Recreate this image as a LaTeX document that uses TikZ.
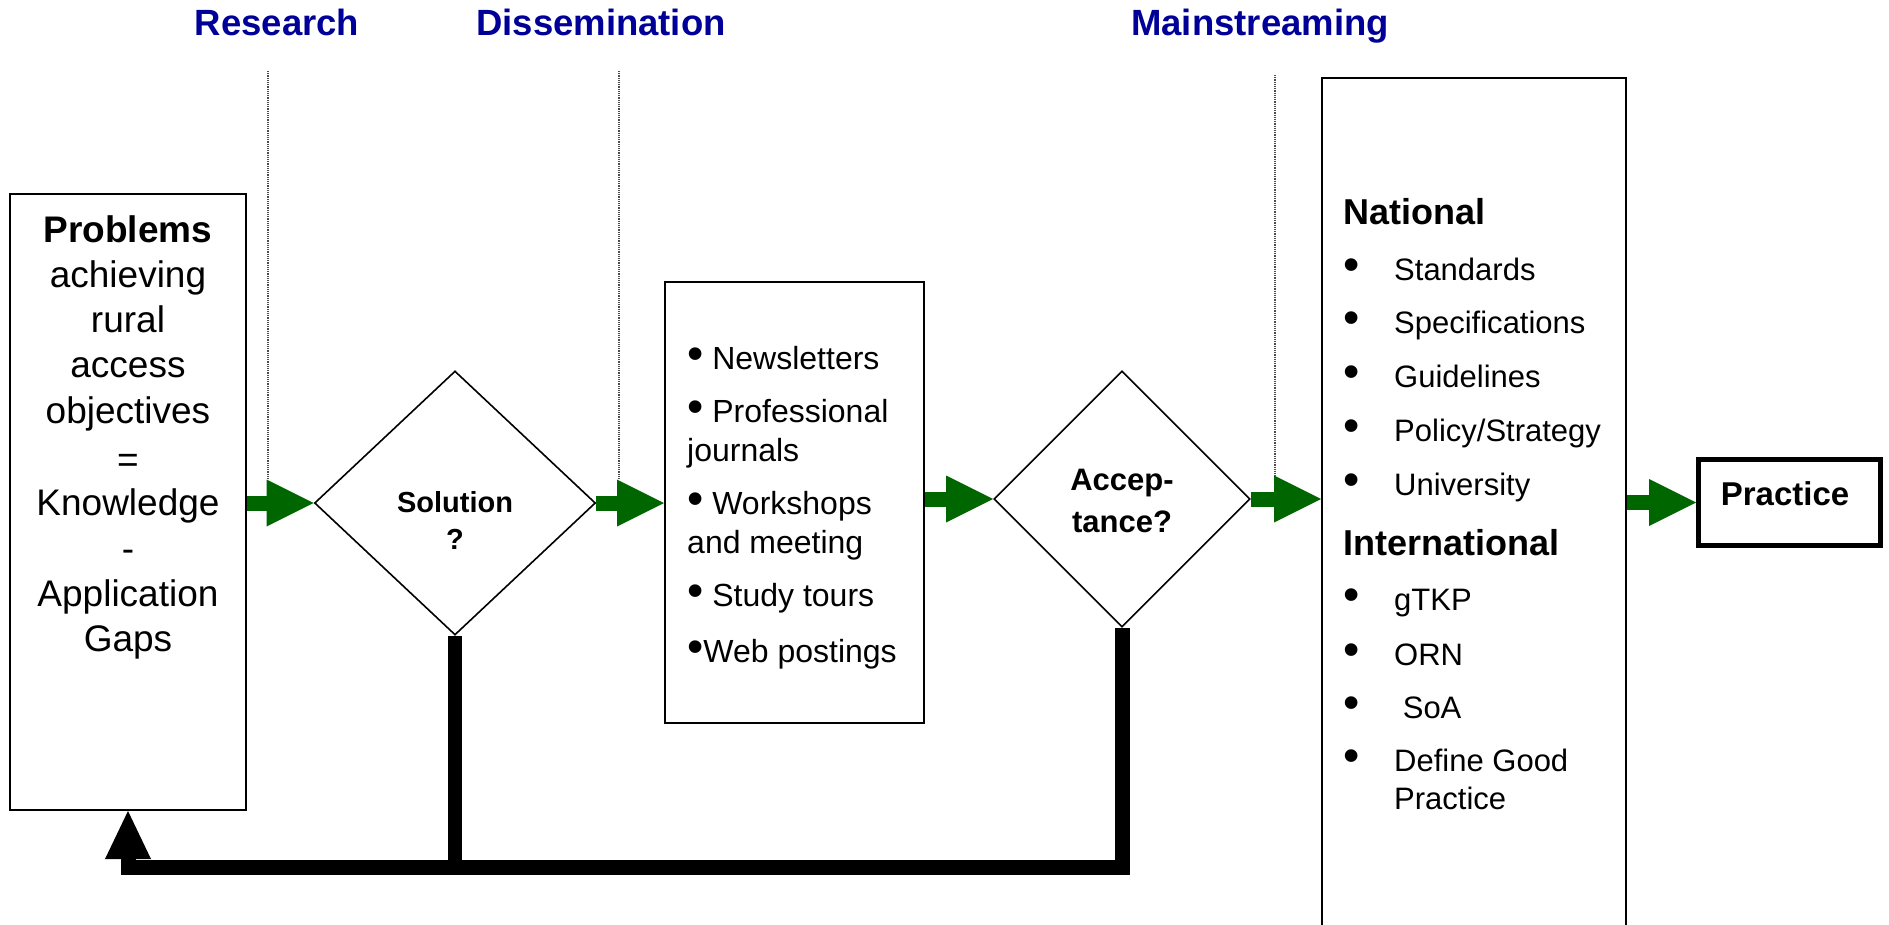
\documentclass[tikz,border=0pt]{standalone}
\usepackage{graphicx}
\usepackage{fontspec}
\setmainfont{Liberation Sans}
\usetikzlibrary{shapes.geometric,arrows.meta,calc}
\definecolor{ttl}{RGB}{0,0,153}
\definecolor{grn}{RGB}{0,102,0}
\newcommand\dbul{\scalebox{1.45}{\textbullet}}
\newcommand\nbul{\makebox[51pt][l]{\scalebox{1.5}{\textbullet}}}
\begin{document}
\begin{tikzpicture}[x=1pt,y=-1pt,
  box/.style={draw, line width=2pt, inner sep=0pt},
  dia/.style={draw, diamond, line width=1.6pt, inner sep=0pt},
  ttlnode/.style={text=ttl, font=\bfseries\fontsize{36.5}{40}\selectfont, inner sep=0pt, anchor=base},
  txt/.style={inner sep=0pt},
  garrow/.style={grn, line width=15pt, -{Triangle[length=47pt,width=47pt,line width=0pt]}},
  fback/.style={line width=15pt, line join=miter},
  dotline/.style={densely dotted, line width=1.2pt, black!70},
]
\useasboundingbox (0,0) rectangle (1889,924);
\clip (0,0) rectangle (1889,924);

% titles
\node[ttlnode] (res) at (277,35) {Research};
\node[ttlnode] (dsm) at (601,35) {Dissemination};
\node[ttlnode] (mst) at (1260,35) {Mainstreaming};

% dotted guide lines
\coordinate (r1) at (268,71);   \coordinate (r2) at (268,480);
\coordinate (d1) at (619,71);   \coordinate (d2) at (619,480);
\coordinate (m1) at (1275,75);  \coordinate (m2) at (1275,476);
\draw[dotline] (r1) -- (r2);
\draw[dotline] (d1) -- (d2);
\draw[dotline] (m1) -- (m2);

% problems box
\node[box, minimum width=236pt, minimum height=616pt] (prob) at (128,502) {};
\node[txt, anchor=north, align=center, font=\fontsize{37}{45.3}\selectfont] (probt) at (128,215)
  {\textbf{Problems}\\achieving\\rural\\access\\objectives\\[4pt]=\\[-2pt]Knowledge\\-\\Application\\Gaps};

% solution diamond
\node[dia, minimum width=281pt, minimum height=264pt] (sol) at (455,503) {};
\node[txt, align=center, font=\bfseries\fontsize{29}{37}\selectfont] (solt) at (455,520) {Solution\\?};

% dissemination box
\node[box, minimum width=259pt, minimum height=441pt] (dis) at (794.5,502.5) {};
\node[txt, anchor=north west, align=left, font=\fontsize{32}{38.5}\selectfont] (dist) at (687,346)
  {\dbul\ Newsletters\\[15pt]
   \dbul\ Professional\\journals\\[15pt]
   \dbul\ Workshops\\and meeting\\[15pt]
   \dbul\ Study tours\\[17pt]
   \dbul Web postings};

% acceptance diamond
\node[dia, minimum width=256pt, minimum height=256pt] (acc) at (1122,499) {};
\node[txt, align=center, font=\bfseries\fontsize{31}{42}\selectfont] (acct) at (1122,501) {Accep-\\tance?};

% national / international box
\node[box, anchor=north, minimum width=304pt, minimum height=870pt] (nat) at (1474,77) {};
\node[txt, anchor=north west, align=left, font=\fontsize{31}{38}\selectfont] (natt) at (1343,198)
  {{\bfseries\fontsize{36}{38}\selectfont National}\\[18pt]
   \nbul Standards\\[15.7pt]
   \nbul Specifications\\[15.7pt]
   \nbul Guidelines\\[15.7pt]
   \nbul Policy/Strategy\\[15.7pt]
   \nbul University\\[22pt]
   {\bfseries\fontsize{36}{38}\selectfont International}\\[17pt]
   \nbul gTKP\\[17pt]
   \nbul ORN\\[15pt]
   \nbul\ SoA\\[15.7pt]
   \nbul Define Good\\
   \hspace*{51pt}Practice};

% practice box
\node[draw, line width=5pt, inner sep=0pt, minimum width=182pt, minimum height=86pt] (prac) at (1789.5,502.5) {};
\node[txt, font=\bfseries\fontsize{33}{36}\selectfont] (pract) at (1785,494) {Practice};

% green flow arrows
\draw[garrow] (prob.east |- sol.west) -- (sol.west);
\draw[garrow] (sol.east) -- (sol.east -| dis.west);
\draw[garrow] (dis.east |- acc.west) -- (acc.west);
\draw[garrow] (acc.east) -- (acc.east -| nat.west);
\draw[garrow] (nat.east |- prac.west) -- (prac.west);

% feedback loop
\coordinate (fb) at (0,867);
\draw[fback, -{Triangle[length=48pt,width=46pt,line width=0pt]}]
  (acc.south) -- (acc.south |- fb) -- (prob.south |- fb) -- (prob.south);
\draw[line width=14pt] (sol.south) -- (sol.south |- fb);
\end{tikzpicture}
\end{document}
